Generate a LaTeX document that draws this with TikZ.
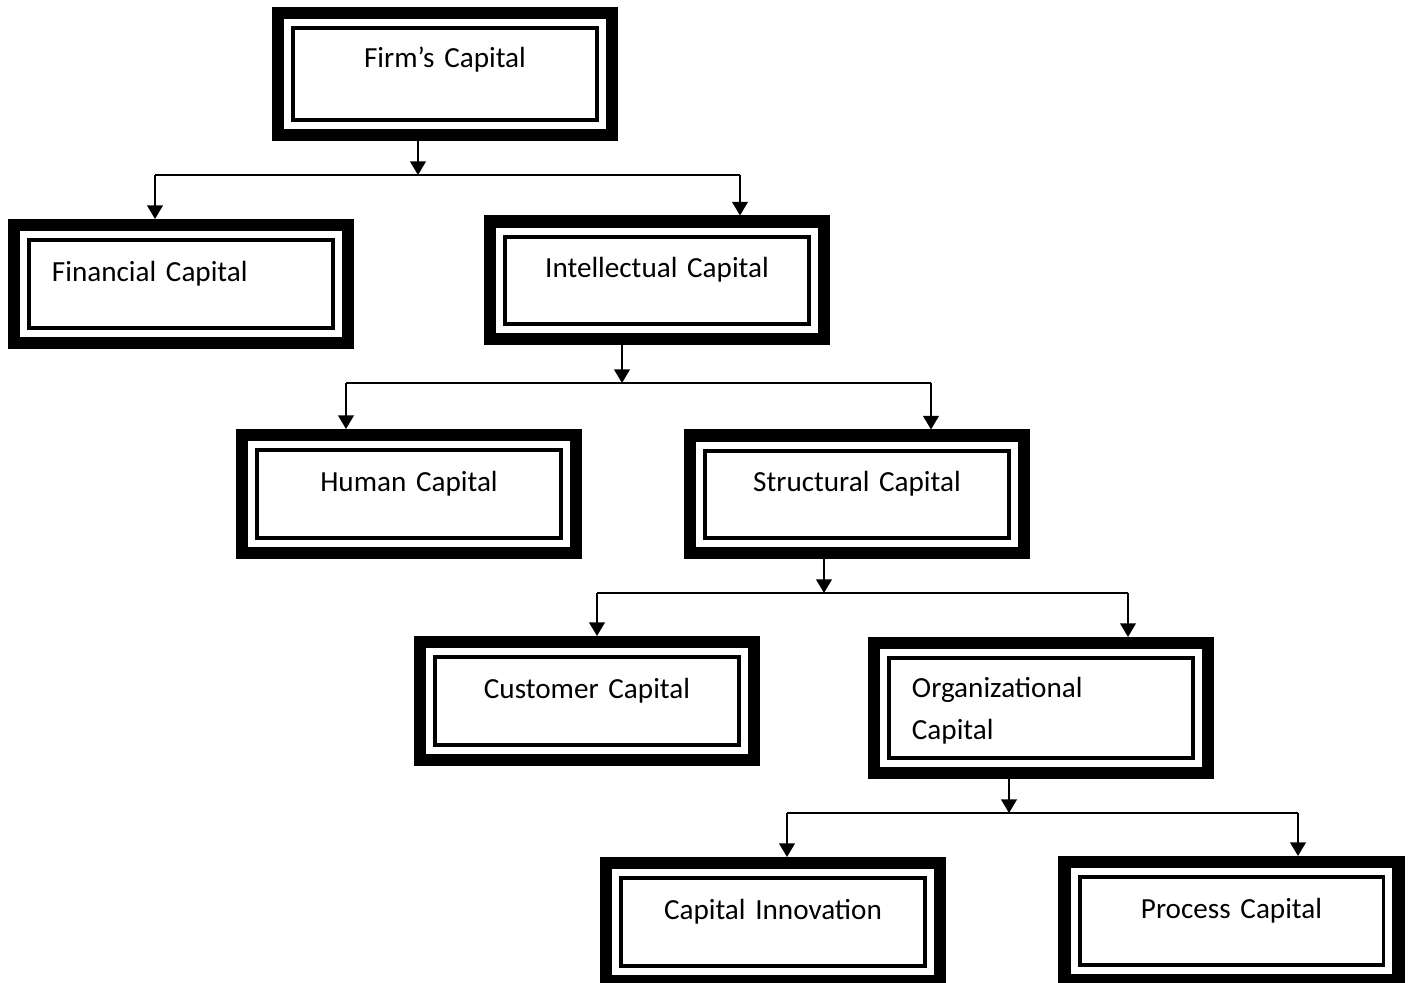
\documentclass[tikz,border=0pt]{standalone}
\usepackage{fontspec}
\setmainfont{Carlito}
\usepackage{tikz}
\usetikzlibrary{arrows.meta,calc}

\tikzset{
  capbox/.style={draw, line width=5.8pt, inner xsep=18.2pt, inner ysep=0pt,
    minimum width=160.3pt, text width=123.9pt, align=center,
    font=\fontsize{14pt}{20pt}\selectfont,
    text height=27pt, text depth=29.6pt,
    path picture={\draw[line width=1.9pt]
      ($(path picture bounding box.north west)+(7.2pt,-7.2pt)$) rectangle
      ($(path picture bounding box.south east)+(-7.2pt,7.2pt)$);}},
  link/.style={line width=0.8pt},
  arrow/.style={link, -{Triangle[width=7.5pt,length=6.5pt]}}
}

\begin{document}
\begin{tikzpicture}[x=0.48pt, y=-0.48pt]
   \useasboundingbox (0,0) rectangle (1410,983);

   % boxes
   \node[capbox, text height=26pt, text depth=32.6pt] (firm) at (445,74)
    {Firm’s Capital};
   \node[capbox, align=left] (fin) at (181,284) {Financial Capital};
   \node[capbox] (intel) at (657,280.5) {Intellectual Capital};
   \node[capbox] (human) at (409,494) {Human Capital};
   \node[capbox] (struct) at (857,494.5) {Structural Capital};
   \node[capbox] (cust) at (587,701) {Customer Capital};
   \node[capbox, align=left, text height=26.2pt, text depth=36.2pt] (org)
    at (1041,708) {Organizational\\Capital};
   \node[capbox] (innov) at (773,922) {Capital Innovation};
   \node[capbox] (proc) at (1231.5,921) {Process Capital};

   % firm -> financial, intellectual
   \coordinate (j1) at (418,175);
   \coordinate (j1l) at (155,175);
   \coordinate (j1r) at (740,175);
   \draw[arrow] (j1 |- firm.south) -- (j1);
   \draw[link] (j1l) -- (j1r);
   \draw[arrow] (j1l) -- (j1l |- fin.north);
   \draw[arrow] (j1r) -- (j1r |- intel.north);

   % intellectual -> human, structural
   \coordinate (j2) at (622,383);
   \coordinate (j2l) at (346,383);
   \coordinate (j2r) at (931,383);
   \draw[arrow] (j2 |- intel.south) -- (j2);
   \draw[link] (j2l) -- (j2r);
   \draw[arrow] (j2l) -- (j2l |- human.north);
   \draw[arrow] (j2r) -- (j2r |- struct.north);

   % structural -> customer, organizational
   \coordinate (j3) at (824,593);
   \coordinate (j3l) at (597,593);
   \coordinate (j3r) at (1128,593);
   \draw[arrow] (j3 |- struct.south) -- (j3);
   \draw[link] (j3l) -- (j3r);
   \draw[arrow] (j3l) -- (j3l |- cust.north);
   \draw[arrow] (j3r) -- (j3r |- org.north);

   % organizational -> innovation, process
   \coordinate (j4) at (1009,813);
   \coordinate (j4l) at (787,813);
   \coordinate (j4r) at (1298,813);
   \draw[arrow] (j4 |- org.south) -- (j4);
   \draw[link] (j4l) -- (j4r);
   \draw[arrow] (j4l) -- (j4l |- innov.north);
   \draw[arrow] (j4r) -- (j4r |- proc.north);
\end{tikzpicture}
\end{document}
